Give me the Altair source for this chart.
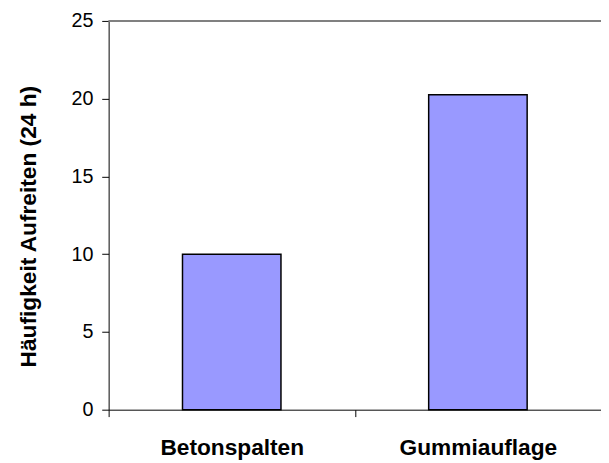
import altair as alt
import pandas as pd

categories = ["Betonspalten", "Gummiauflage"]
values = [10.0, 20.25]

df = pd.DataFrame({"cat": categories, "val": values})

FONT = "Liberation Sans"

bars = alt.Chart(df).mark_bar(
    color="#9999FF", stroke="black", strokeWidth=1.5,
    width=alt.RelativeBandSize(0.4)
).encode(
    x=alt.X("cat:N", sort=categories, title=None,
            scale=alt.Scale(paddingInner=0, paddingOuter=0),
            axis=alt.Axis(tickBand="extent", labelAngle=0,
                          labelFont=FONT, labelFontSize=23, labelFontWeight="bold",
                          labelColor="black", labelPadding=20,
                          tickColor="black", tickSize=7, domainColor="black",
                          labelAlign="center")),
    y=alt.Y("val:Q", title="Häufigkeit Aufreiten (24 h)",
            scale=alt.Scale(domain=[0, 25], nice=False),
            axis=alt.Axis(values=[0, 5, 10, 15, 20, 25], grid=False,
                          labelFont=FONT, labelFontSize=20, labelColor="black",
                          labelPadding=9, tickColor="black", tickSize=7,
                          domainColor="black",
                          titleFont=FONT, titleFontSize=23, titleFontWeight="bold",
                          titleColor="black", titleX=-81, titleY=208,
                          titleAlign="center", titleBaseline="middle")),
)

top = alt.Chart(df).mark_rule(color="#808080", strokeWidth=2).encode(
    y=alt.datum(25)
)

chart = alt.layer(bars, top).properties(
    width=499, height=394,
    autosize=alt.AutoSizeParams(type="none"),
    padding={"left": 102, "top": 10, "right": 0, "bottom": 56}
).configure_view(stroke=None)

chart.save("out.html", embed_options={"renderer": "svg", "actions": False})
